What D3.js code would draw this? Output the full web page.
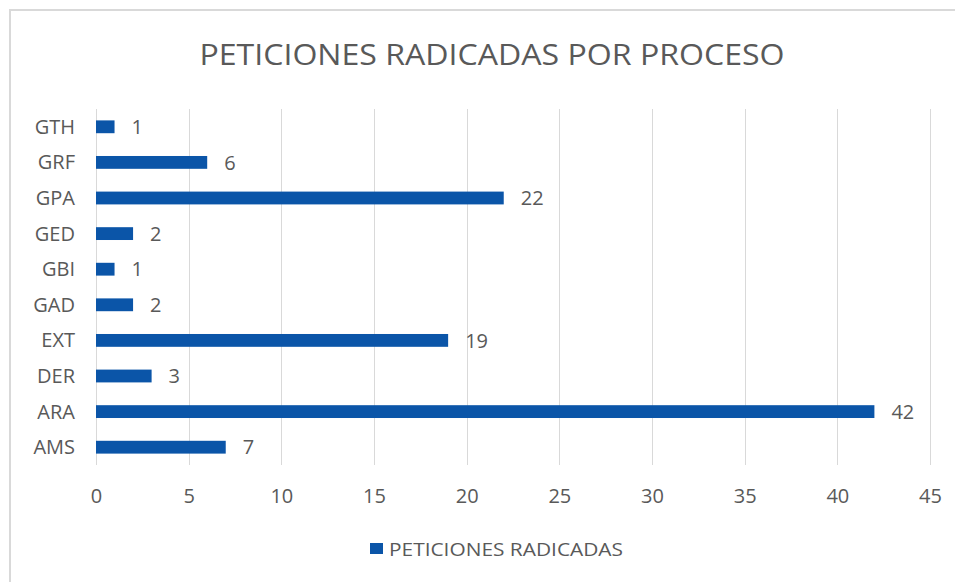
<!DOCTYPE html>
<html>
<head>
<meta charset="utf-8">
<script src="https://cdn.jsdelivr.net/npm/d3@7"></script>
<style>
	body { margin: 0; background: #fff; }
	svg text { font-family: "Open Sans", "Noto Sans", sans-serif; fill: #595959; }
</style>
</head>
<body>
<svg id="svg"></svg>
<script>
"use strict";

var categories = ["GTH", "GRF", "GPA", "GED", "GBI", "GAD", "EXT", "DER", "ARA", "AMS"];
var values     = [1, 6, 22, 2, 1, 2, 19, 3, 42, 7];
var xTicks     = [0, 5, 10, 15, 20, 25, 30, 35, 40, 45];
var title      = "PETICIONES RADICADAS POR PROCESO";
var seriesName = "PETICIONES RADICADAS";

var width  = 955,
	height = 582,
	barColor = "#0b55a8";

var svg = d3.select("#svg")
	.attr("width", width)
	.attr("height", height);

// chart frame
svg.append("rect")
	.attr("x", 10).attr("y", 10)
	.attr("width", width + 20).attr("height", height + 20)
	.style("fill", "none")
	.style("stroke", "#d9d9d9")
	.style("stroke-width", 2);

svg.append("text")
	.attr("x", 492).attr("y", 65)
	.attr("text-anchor", "middle")
	.attr("textLength", 585)
	.attr("lengthAdjust", "spacingAndGlyphs")
	.style("font-size", "29px")
	.text(title);

var x = d3.scaleLinear().domain([0, 45]).range([96, 930]);

var y = d3.scaleBand()
	.domain(categories)
	.range([109, 465])
	.paddingInner(0.64)
	.paddingOuter(0.32);

var data = categories.map(function(c, i){ return {cat: c, val: values[i]}; });

// gridlines
svg.append("g")
	.selectAll("line")
	.data(xTicks)
	.enter()
	.append("line")
	.attr("x1", function(d){ return Math.round(x(d)) + 0.5; })
	.attr("x2", function(d){ return Math.round(x(d)) + 0.5; })
	.attr("y1", 109)
	.attr("y2", 465)
	.style("stroke", "#d9d9d9")
	.style("stroke-width", 1);

// x tick labels
var xAxis = svg.append("g")
	.attr("transform", "translate(0,465)")
	.call(d3.axisBottom(x).tickValues(xTicks).tickSize(0).tickPadding(0));
xAxis.select(".domain").remove();
xAxis.selectAll("text")
	.attr("y", 38)
	.attr("dy", 0)
	.style("font-size", "20px");

// category labels
var yAxis = svg.append("g")
	.attr("transform", "translate(75,0)")
	.call(d3.axisLeft(y).tickSize(0).tickPadding(0));
yAxis.select(".domain").remove();
yAxis.selectAll("text")
	.attr("dy", "0.35em")
	.style("font-size", "20px");

// bars
svg.append("g")
	.selectAll("rect")
	.data(data)
	.enter()
	.append("rect")
	.attr("x", x(0))
	.attr("y", function(d){ return y(d.cat); })
	.attr("width", function(d){ return x(d.val) - x(0); })
	.attr("height", y.bandwidth())
	.style("fill", barColor);

// data labels
svg.append("g")
	.selectAll("text")
	.data(data)
	.enter()
	.append("text")
	.attr("x", function(d){ return x(d.val) + 17; })
	.attr("y", function(d){ return y(d.cat) + y.bandwidth() / 2; })
	.attr("dy", "0.36em")
	.style("font-size", "20px")
	.text(function(d){ return d.val; });

// legend
svg.append("rect")
	.attr("x", 370).attr("y", 543)
	.attr("width", 13).attr("height", 11)
	.style("fill", barColor);

svg.append("text")
	.attr("x", 389).attr("y", 556)
	.attr("textLength", 234)
	.attr("lengthAdjust", "spacingAndGlyphs")
	.style("font-size", "18px")
	.text(seriesName);
</script>
</body>
</html>
